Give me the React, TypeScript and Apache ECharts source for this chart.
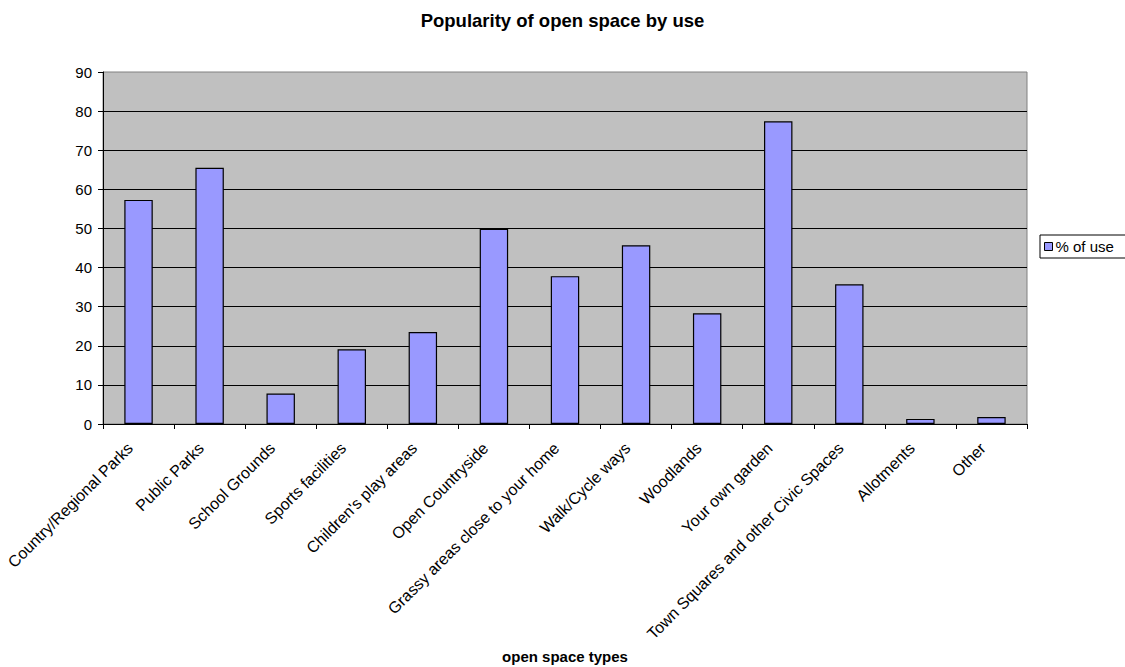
import React, { useEffect, useRef } from "react";
import * as echarts from "echarts";

// Share of respondents using each type of open space (%)
const categories: string[] = [
  "Country/Regional Parks",
  "Public Parks",
  "School Grounds",
  "Sports facilities",
  "Children's play areas",
  "Open Countryside",
  "Grassy areas close to your home",
  "Walk/Cycle ways",
  "Woodlands",
  "Your own garden",
  "Town Squares and other Civic Spaces",
  "Allotments",
  "Other",
];

const useValues: number[] = [57.3, 65.5, 7.8, 19.1, 23.5, 49.9, 37.8, 45.7, 28.3, 77.4, 35.7, 1.3, 1.8];

const seriesName = "% of use";
const chartTitle = "Popularity of open space by use";
const xAxisTitle = "open space types";

const FONT = "'Liberation Sans', Arial, Helvetica, sans-serif";

export default function App() {
  const ref = useRef<HTMLDivElement>(null);

  useEffect(() => {
    if (!ref.current) return;
    const chart = echarts.init(ref.current, undefined, { renderer: "svg" });
    chart.setOption({
      animation: false,
      backgroundColor: "#ffffff",
      textStyle: { fontFamily: FONT, color: "#000" },
      title: {
        text: chartTitle,
        left: "center",
        top: 6,
        textStyle: { fontFamily: FONT, fontSize: 18.5, fontWeight: "bold", color: "#000" },
      },
      legend: {
        data: [seriesName],
        left: 1040,
        top: 235,
        orient: "vertical",
        icon: "rect",
        itemWidth: 8,
        itemHeight: 8,
        itemGap: 4,
        padding: [4, 14, 4, 4],
        borderColor: "#000",
        borderWidth: 1,
        backgroundColor: "#fff",
        textStyle: { fontFamily: FONT, fontSize: 15, color: "#000", padding: [0, 0, 0, -2] },
        itemStyle: { borderColor: "#000", borderWidth: 1 },
      },
      grid: {
        left: 103,
        top: 72,
        right: 98,
        bottom: 243,
        outerBoundsMode: "none",
        containLabel: false,
        show: true,
        backgroundColor: "#C0C0C0",
        borderColor: "#808080",
        borderWidth: 1,
      },
      xAxis: {
        type: "category",
        data: categories,
        name: xAxisTitle,
        nameLocation: "middle",
        nameGap: 221,
        nameTextStyle: { fontFamily: FONT, fontSize: 15, fontWeight: "bold", color: "#000" },
        axisLine: { lineStyle: { color: "#000", width: 1 } },
        axisTick: { show: true, alignWithLabel: false, length: 5, lineStyle: { color: "#000" } },
        axisLabel: {
          rotate: 45,
          interval: 0,
          margin: 13,
          padding: [0, 12, 0, 0],
          fontFamily: FONT,
          fontSize: 16,
          color: "#000",
        },
      },
      yAxis: {
        type: "value",
        min: 0,
        max: 90,
        interval: 10,
        axisLine: { show: true, lineStyle: { color: "#000", width: 1 } },
        axisTick: { show: true, length: 5, lineStyle: { color: "#000" } },
        axisLabel: { margin: 11, fontFamily: FONT, fontSize: 15, color: "#000" },
        splitLine: { show: true, showMaxLine: false, lineStyle: { color: "#000", width: 1 } },
      },
      series: [
        {
          name: seriesName,
          type: "bar",
          data: useValues,
          barWidth: "40%",
          itemStyle: { color: "#9999FF", borderColor: "#000", borderWidth: 1.2 },
        },
      ],
    });
    return () => chart.dispose();
  }, []);

  return (
    <div
      ref={ref}
      style={{ position: "fixed", left: 0, top: 0, width: 1125, height: 667 }}
    />
  );
}
